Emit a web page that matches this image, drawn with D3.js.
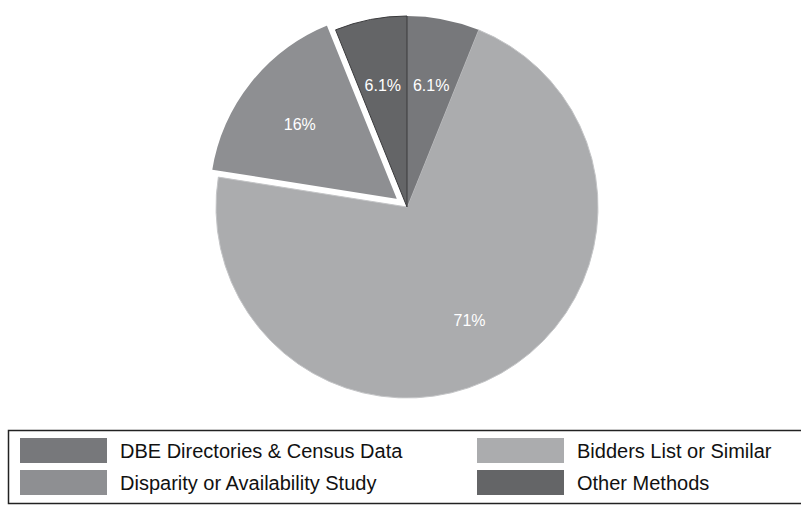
<!DOCTYPE html>
<html>
<head>
<meta charset="utf-8">
<script src="https://cdn.jsdelivr.net/npm/d3@7"></script>
<style>
  body { margin: 0; background: #fff; }
  svg { display: block; }
</style>
</head>
<body>
<svg id="chart"></svg>
<script>
var categories = ["DBE Directories & Census Data", "Bidders List or Similar",
                  "Disparity or Availability Study", "Other Methods"];
var values = [6.1, 71.4, 16.4, 6.1];
var labels = ["6.1%", "71%", "16%", "6.1%"];
var colors = ["#77787b", "#abacae", "#8e8f92", "#646567"];
var strokes = ["none", "#c4c5c7", "#fff", "#3a3a3c"];
var exploded = [0, 0, 10, 0];

var w = 801, h = 508,
    cx = 407, cy = 207,
    r = 191;

var chart = d3.select("#chart")
  .attr("width", w)
  .attr("height", h);

var pie = d3.pie().sort(null).value(function(d) { return d; });
var arcs = pie(values);
var arc = d3.arc().innerRadius(0).outerRadius(r);
var labelArc = d3.arc().innerRadius(127).outerRadius(127);

function offset(d, i) {
  var a = (d.startAngle + d.endAngle) / 2;
  return [Math.sin(a) * exploded[i], -Math.cos(a) * exploded[i]];
}

var g = chart.append("g").attr("transform", "translate(" + cx + "," + cy + ")");

// exploded slice goes last so its white edge sits on top
var order = [1, 0, 3, 2];
order.forEach(function(i) {
  var d = arcs[i], o = offset(d, i);
  g.append("path")
    .attr("d", arc(d))
    .attr("transform", "translate(" + o[0] + "," + o[1] + ")")
    .style("fill", colors[i])
    .style("stroke", strokes[i])
    .style("stroke-width", exploded[i] ? 3 : 1)
    .style("stroke-linejoin", "miter");
});

arcs.forEach(function(d, i) {
  var o = offset(d, i), c = labelArc.centroid(d);
  g.append("text")
    .attr("x", c[0] + o[0])
    .attr("y", c[1] + o[1])
    .attr("dy", "0.55em")
    .style("text-anchor", "middle")
    .style("font-family", "'Liberation Sans', Arial, sans-serif")
    .style("font-size", "16px")
    .style("fill", "#fff")
    .text(labels[i]);
});

// legend
var legend = chart.append("g");
legend.append("rect")
  .attr("x", 8.5).attr("y", 430.5)
  .attr("width", 800).attr("height", 73)
  .style("fill", "#fff")
  .style("stroke", "#222")
  .style("stroke-width", 1.5);

var legendPos = [[20, 438], [477, 438], [20, 470], [477, 470]];
categories.forEach(function(name, i) {
  var p = legendPos[i];
  legend.append("rect")
    .attr("x", p[0]).attr("y", p[1])
    .attr("width", 87).attr("height", 25)
    .style("fill", colors[i]);
  legend.append("text")
    .attr("x", p[0] + 100)
    .attr("y", p[1] + 12.5)
    .attr("dy", "0.36em")
    .style("font-family", "'Liberation Sans', Arial, sans-serif")
    .style("font-size", "20px")
    .style("fill", "#111")
    .text(name);
});
</script>
</body>
</html>
